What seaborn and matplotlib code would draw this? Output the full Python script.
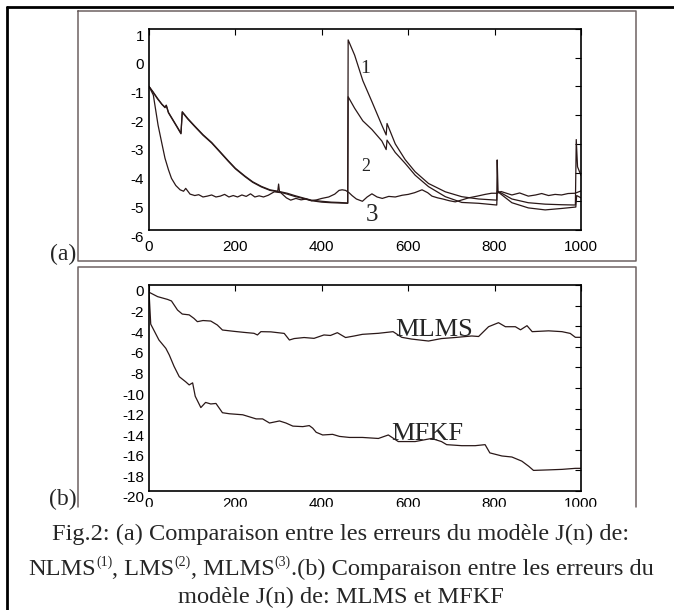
import matplotlib
matplotlib.use("Agg")
import matplotlib.pyplot as plt
import seaborn as sns
import numpy as np
from matplotlib.lines import Line2D
from matplotlib.patches import Rectangle
from matplotlib.transforms import ScaledTranslation

# ---- data ----
# (a) NLMS (1)
n_nlms = [0, 10, 20, 30, 37, 40, 45, 55, 65, 74, 77, 90, 106, 125, 145, 165, 183, 200, 222, 240, 260,
          280, 298, 300, 302, 320, 337, 356, 376, 400, 422, 440, 460, 461, 476, 495, 516, 539, 549, 551,
          570, 593, 616, 647, 686, 724, 763, 805, 806, 808, 840, 878, 917, 955, 987, 989, 992, 1000]
j_nlms = [-1.0, -1.2, -1.42, -1.62, -1.72, -1.65, -1.9, -2.15, -2.4, -2.63, -1.88, -2.12, -2.38, -2.68,
          -2.95, -3.28, -3.58, -3.85, -4.12, -4.32, -4.48, -4.6, -4.65, -4.4, -4.66, -4.72, -4.8, -4.88,
          -4.96, -5.0, -5.03, -5.04, -5.06, 0.62, 0.09, -0.8, -1.53, -2.35, -2.69, -2.29, -3.0, -3.55,
          -3.97, -4.38, -4.67, -4.84, -4.92, -4.96, -3.56, -4.65, -4.92, -5.05, -5.1, -5.12, -5.13, -2.85,
          -3.8, -4.1]
# (a) LMS (2)
n_lms = [0, 10, 20, 30, 37, 40, 45, 55, 65, 74, 77, 90, 106, 125, 145, 165, 183, 200, 222, 240, 260,
         280, 300, 320, 337, 356, 376, 400, 422, 440, 460, 461, 476, 495, 516, 539, 549, 551, 570, 593,
         616, 647, 686, 724, 763, 805, 806, 840, 878, 917, 955, 988, 990, 1000]
j_lms = [-1.0, -1.22, -1.44, -1.63, -1.74, -1.67, -1.92, -2.17, -2.42, -2.65, -1.9, -2.14, -2.4, -2.7,
         -2.97, -3.3, -3.6, -3.87, -4.14, -4.34, -4.5, -4.62, -4.67, -4.75, -4.83, -4.9, -4.98, -5.03,
         -5.05, -5.06, -5.07, -1.36, -1.76, -2.2, -2.5, -2.9, -3.2, -2.87, -3.3, -3.68, -4.09, -4.49,
         -4.84, -5.04, -5.07, -5.13, -4.65, -5.05, -5.23, -5.3, -5.25, -5.2, -4.8, -4.88]
# (a) MLMS (3)
n_mlms_a = [0, 10, 21, 30, 37, 45, 52, 62, 72, 80, 85, 95, 106, 115, 125, 135, 145, 155, 165, 175, 185,
            195, 205, 215, 225, 235, 245, 255, 265, 276, 290, 305, 318, 328, 340, 352, 364, 376, 388,
            400, 416, 430, 440, 447, 455, 463, 470, 480, 494, 505, 516, 528, 540, 555, 570, 586, 600,
            615, 632, 645, 655, 668, 680, 695, 709, 725, 740, 760, 778, 793, 806, 815, 840, 858, 878,
            895, 909, 925, 940, 955, 970, 986, 1000]
j_mlms_a = [-1.0, -1.3, -2.35, -3.0, -3.5, -3.9, -4.2, -4.45, -4.6, -4.65, -4.55, -4.75, -4.8, -4.77,
            -4.85, -4.82, -4.78, -4.85, -4.82, -4.76, -4.85, -4.8, -4.85, -4.78, -4.83, -4.74, -4.85,
            -4.81, -4.85, -4.79, -4.67, -4.7, -4.88, -4.96, -4.9, -4.95, -4.92, -4.98, -4.95, -4.9,
            -4.85, -4.75, -4.62, -4.6, -4.62, -4.7, -4.8, -4.92, -5.0, -4.85, -4.74, -4.85, -4.9,
            -4.83, -4.85, -4.79, -4.76, -4.7, -4.6, -4.7, -4.82, -4.88, -4.92, -4.98, -5.02, -4.95,
            -4.88, -4.82, -4.76, -4.72, -4.72, -4.66, -4.78, -4.71, -4.82, -4.78, -4.73, -4.8, -4.76,
            -4.78, -4.73, -4.72, -4.64]

# (b) MLMS
n_mlms_b = [0, 20, 43, 52, 66, 77, 93, 104, 112, 125, 143, 158, 170, 197, 220, 243, 251, 259, 282, 313,
            325, 336, 359, 382, 405, 420, 436, 455, 475, 494, 531, 565, 585, 608, 647, 677, 708, 747,
            763, 786, 809, 825, 848, 860, 875, 887, 925, 956, 975, 987, 1000]
j_mlms_b = [-0.7, -1.13, -1.4, -1.55, -2.43, -2.82, -2.9, -3.24, -3.56, -3.45, -3.5, -3.88, -4.37, -4.5,
            -4.6, -4.69, -4.85, -4.53, -4.55, -4.7, -5.34, -5.2, -5.1, -5.18, -4.85, -4.9, -4.63, -5.1,
            -4.95, -4.79, -4.69, -4.53, -5.08, -5.25, -5.44, -5.2, -5.1, -4.95, -5.0, -4.05, -3.66,
            -4.05, -4.05, -4.35, -3.95, -4.53, -4.45, -4.53, -4.7, -5.08, -5.08]
# (b) MFKF
n_mfkf = [0, 4, 23, 39, 47, 58, 70, 85, 93, 101, 107, 120, 131, 143, 155, 170, 186, 217, 248, 263, 279,
          302, 317, 333, 356, 371, 379, 387, 402, 425, 441, 464, 494, 531, 554, 577, 616, 654, 677, 689,
          724, 755, 778, 789, 817, 840, 863, 879, 890, 925, 956, 987, 1000]
j_mfkf = [-0.6, -3.8, -5.34, -6.15, -6.8, -7.9, -8.9, -9.4, -9.7, -9.5, -10.8, -11.9, -11.4, -11.55,
          -11.5, -12.4, -12.5, -12.6, -13.0, -13.0, -13.4, -13.2, -13.4, -13.7, -13.75, -13.65, -13.9,
          -14.3, -14.56, -14.5, -14.7, -14.8, -14.8, -14.9, -14.56, -15.2, -15.2, -14.9, -15.2, -15.5,
          -15.6, -15.6, -15.5, -16.3, -16.6, -16.7, -17.1, -17.6, -18.0, -17.95, -17.9, -17.8, -17.8]

yticks_a = [1, 0, -1, -2, -3, -4, -5, -6]
yticks_b = [0, -2, -4, -6, -8, -10, -12, -14, -16, -18, -20]
xticks = [0, 200, 400, 600, 800, 1000]

caption_1 = "Fig.2: (a) Comparaison entre les erreurs du modèle J(n) de:"
# second caption line as (text, is_superscript) pieces
caption_2 = [("NLMS", False), ("(1)", True), (", LMS", False), ("(2)", True), (", MLMS", False),
             ("(3)", True), (".(b) Comparaison entre les erreurs du", False)]
caption_3 = "modèle J(n) de: MLMS et MFKF"

# ---- style ----
sns.set_theme(style="white")
plt.rcParams["font.family"] = ["Liberation Sans", "DejaVu Sans"]
plt.rcParams["axes.unicode_minus"] = False

W, H = 674, 610
fig = plt.figure(figsize=(W / 100, H / 100), dpi=100)
fig.patch.set_facecolor("white")

line_col = "#2a1818"
box_col = "#6e6262"
serif = "Liberation Serif"
cap_size = 17.6


def fx(px):
    return px / W


def fy(py):
    return 1 - py / H


ax_a = fig.add_axes([fx(149), fy(230), fx(581) - fx(149), fy(29) - fy(230)])
ax_b = fig.add_axes([fx(149), fy(491), fx(581) - fx(149), fy(285) - fy(491)])

for n, j in [(n_nlms, j_nlms), (n_lms, j_lms), (n_mlms_a, j_mlms_a)]:
    sns.lineplot(x=n, y=j, ax=ax_a, color=line_col, lw=0.9, estimator=None, sort=False)
for n, j in [(n_mlms_b, j_mlms_b), (n_mfkf, j_mfkf)]:
    sns.lineplot(x=n, y=j, ax=ax_b, color=line_col, lw=0.9, estimator=None, sort=False)

ax_a.set_ylim(-6, 1)
ax_a.set_yticks(yticks_a)
ax_b.set_ylim(-20, 0)
ax_b.set_yticks(yticks_b)

shift = ScaledTranslation(0, -6 / 100, fig.dpi_scale_trans)
for ax in (ax_a, ax_b):
    ax.set_xlim(0, 1000)
    ax.set_xticks(xticks)
    ax.set_facecolor("white")
    for s in ax.spines.values():
        s.set_color("black")
        s.set_linewidth(1.2)
    ax.tick_params(direction="in", top=True, right=True, length=4, width=0.8, color="black",
                   labelsize=11, labelcolor="black")
    ax.tick_params(axis="y", pad=3.5)
    for lab in ax.get_yticklabels():
        lab.set_transform(lab.get_transform() + shift)
ax_a.tick_params(axis="x", pad=7)
ax_b.tick_params(axis="x", pad=4)

# curve labels
ax_a.text(500, -0.39, "1", family=serif, fontsize=14, ha="center", va="center")
ax_a.text(502, -3.78, "2", family=serif, fontsize=13, ha="center", va="center")
ax_a.text(516, -5.48, "3", family=serif, fontsize=18, ha="center", va="center")
ax_b.text(660, -4.37, "MLMS", family=serif, fontsize=19, ha="center", va="center")
ax_b.text(645, -14.47, "MFKF", family=serif, fontsize=19, ha="center", va="center")

# outer frame (thick top and left edges)
fig.add_artist(Line2D([fx(6.7), 1.0], [fy(6.7), fy(6.7)], color="black", lw=2.0))
fig.add_artist(Line2D([fx(6.7), fx(6.7)], [0, fy(6.7)], color="black", lw=2.0))

# grey panel boxes
x0, x1 = fx(77.7), fx(636)
fig.add_artist(Line2D([x0, x1, x1, x0, x0], [fy(10.7), fy(10.7), fy(261), fy(261), fy(10.7)],
                      color=box_col, lw=1.1))
fig.add_artist(Line2D([x0, x0, x1, x1], [fy(507), fy(266.7), fy(266.7), fy(507)], color=box_col, lw=1.1))

# panel (b) is cut off through its tick labels
fig.add_artist(Rectangle((fx(80), fy(516)), fx(633) - fx(80), fy(507) - fy(516),
                         transform=fig.transFigure, color="white", zorder=10))

fig.text(fx(76), fy(254), "(a)", family=serif, fontsize=17, ha="right", va="center")
fig.text(fx(77), fy(499), "(b)", family=serif, fontsize=17, ha="right", va="center", zorder=11)

# caption
fig.text(fx(341), fy(540), caption_1, family=serif, fontsize=cap_size, ha="center", va="baseline", zorder=11)
fig.text(fx(341), fy(603), caption_3, family=serif, fontsize=cap_size, ha="center", va="baseline", zorder=11)

renderer = fig.canvas.get_renderer()
pieces = []
for txt, sup in caption_2:
    t = fig.text(0, fy(575) + (9 / H if sup else 0), txt, family=serif,
                 fontsize=10 if sup else cap_size, ha="left", va="baseline", zorder=11)
    pieces.append((t, t.get_window_extent(renderer).width))
total = sum(w for _, w in pieces)
x = 341 - total / 2
for t, w in pieces:
    t.set_x(fx(x))
    x += w

fig.savefig("out.png", dpi=100)
